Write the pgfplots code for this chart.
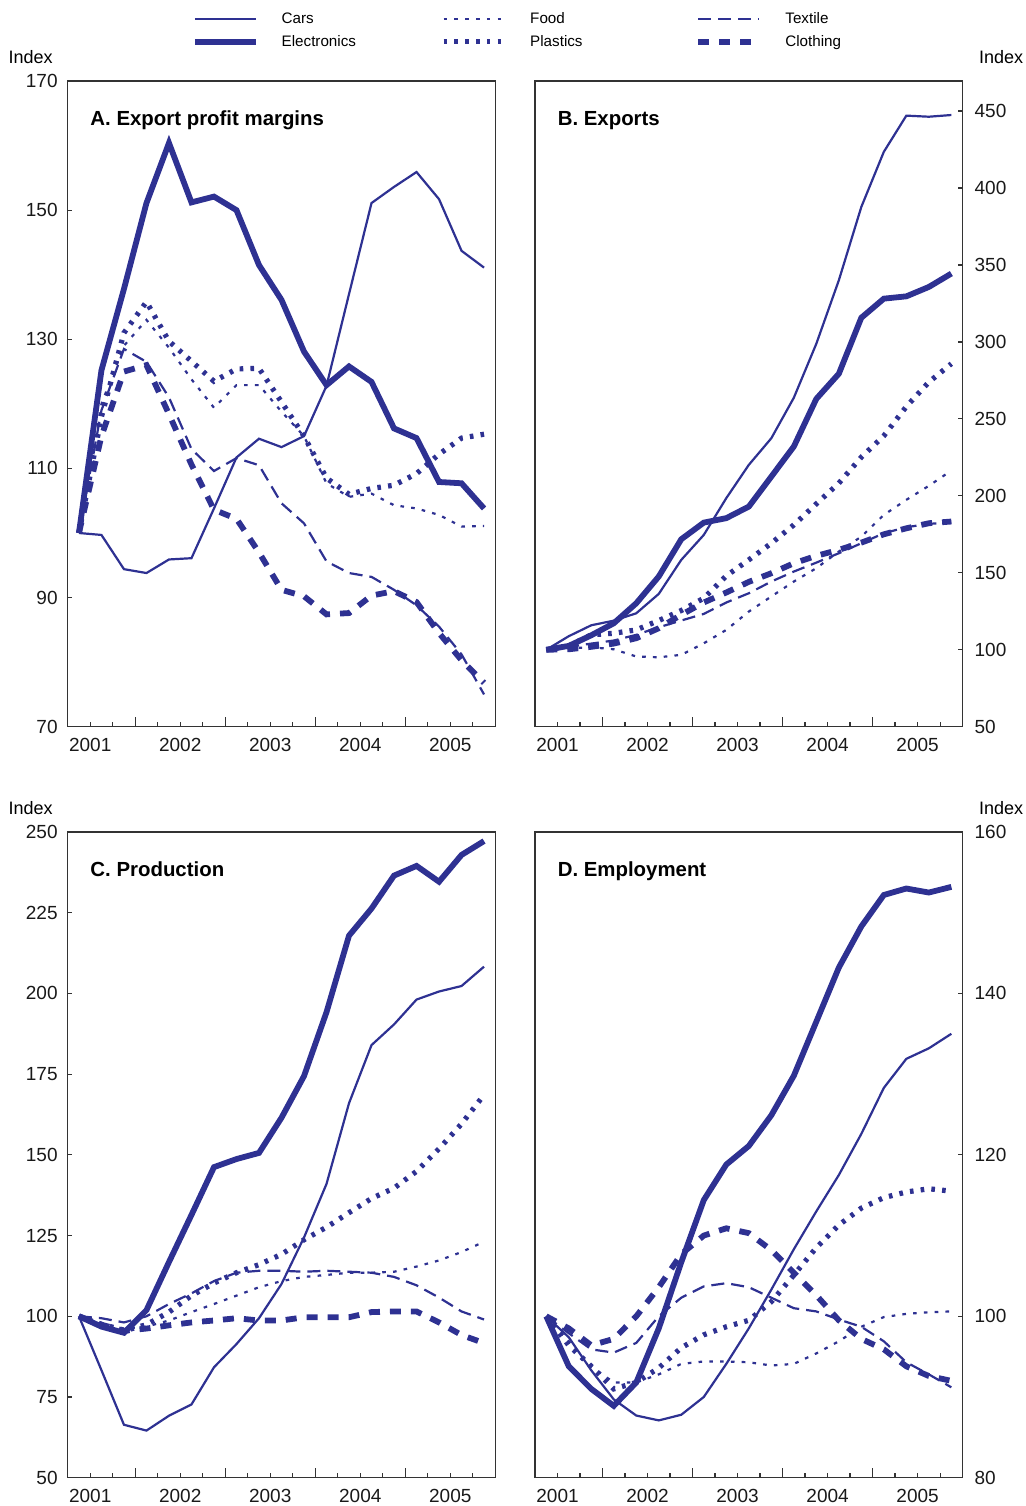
\documentclass[border=0pt]{standalone}
\usepackage{fontspec}
\setmainfont{Liberation Sans}
\usepackage{pgfplots}
\usepackage{pgfplotstable}
\pgfplotsset{compat=1.18}
\definecolor{lineblue}{HTML}{2E3192}

% quarters 2001Q2 .. 2005Q4 as 0..18
\pgfplotstableread{
q cars elec food plast text cloth
0 100 100 100 100 100 100
1 99.7 125.2 120 118 119 115
2 94.4 137.8 129 131 128.5 125
3 93.8 151.1 133 135.8 126.5 126
4 95.9 160.4 128.7 129.7 121 118.4
5 96.1 151.2 123.8 126.6 113 110.6
6 103.8 152.1 119.4 123.5 109.6 103.6
7 111.7 150.0 122.9 125.4 111.6 102.2
8 114.6 141.5 122.9 125.5 110.5 97
9 113.3 136.1 118.8 120.3 104.6 91.2
10 115.0 128.1 115 115 101.5 90.2
11 122.8 122.9 107.7 108.5 95.6 87.4
12 137 125.8 105.6 106 93.8 87.6
13 151.1 123.4 106.1 106.9 93.2 90.3
14 153.6 116.2 104.3 107.4 91.2 91
15 155.9 114.7 103.8 109.2 88.8 89.3
16 151.7 107.9 102.8 112.2 85.5 84.5
17 143.7 107.7 101 114.7 81.2 80.3
18 141.1 103.8 101.1 115.3 75 76.8
}\margins

\pgfplotstableread{
q cars elec food plast text cloth
0 100 100 100 100 100 100
1 108.8 102.5 101 102.5 101.9 100.3
2 115.9 109.4 101.6 109.7 104 101.9
3 118.9 117.2 100.3 110.7 106 104
4 123.7 130.2 95.6 112.9 109.7 107.5
5 136.3 147.6 95.1 119 114.6 114
6 158.4 171.8 96.7 125.5 119 122.7
7 174.6 182.6 104.2 133.5 123.3 130.7
8 198.5 185.5 112.9 148 130.7 137.2
9 220.1 193 124.8 158.4 136.7 144.1
10 237.4 212.5 134.6 169.2 144.3 149.7
11 263.7 232 144.3 181.1 150.8 156.2
12 298.8 263 153 194.8 156.6 161
13 340 279.3 163.8 208.2 162.7 164.9
14 387.7 315.7 173.5 225.1 169.2 169.6
15 423.5 328.1 187.6 239 175.7 175
16 447 329.6 197.4 258 179.6 178.9
17 446.3 335.7 206.5 273.9 181.8 182.2
18 447.4 344.4 216.4 285.8 182.6 183.3
}\exports

\pgfplotstableread{
q cars elec food plast text cloth
0 100 100 100 100 100 100
1 83.3 96.8 98 97.4 99.4 97.4
2 66.4 94.9 96.2 95.5 98.1 95.5
3 64.6 101.9 96.8 97.4 100 96.2
4 69.2 116.8 98.7 101.3 103.8 97.2
5 72.7 131.4 101.3 106.4 107.1 98.1
6 84.2 146.2 103.8 110.3 110.9 98.7
7 91.4 148.7 106.4 113.5 113.5 99.4
8 99.4 150.6 109 116 114.1 98.7
9 110 161.5 110.9 119.2 114.1 98.7
10 124.4 174.4 112.2 123.7 113.8 99.7
11 141 194.2 112.8 127.6 114.1 99.7
12 166 217.9 113.5 132.1 113.8 99.7
13 184 226.3 113.5 136.5 113.5 101.3
14 190.4 236.5 113.8 139.7 112.2 101.5
15 198.1 239.5 115.4 144.9 109.6 101.5
16 200.6 234.6 117.3 151.9 105.8 98.1
17 202.3 242.9 119.9 159.6 101.5 94.2
18 208.3 247.2 123.1 168.6 99 91.7
}\production

\pgfplotstableread{
q cars elec food plast text cloth
0 100 100 100 100 100 100
1 97.4 93.8 96.9 96.4 97.9 98.5
2 93.3 91 93.8 93.8 95.9 96.4
3 89.7 88.9 91.8 91 95.5 97.2
4 87.7 91.8 91.8 91.8 96.7 100
5 87.1 98.5 92.8 93.6 100 103.6
6 87.8 106.7 94.1 96.1 102.3 107.7
7 90 114.4 94.4 97.7 103.7 110
8 94.1 118.8 94.4 98.7 104.1 110.9
9 98.5 121.1 94.3 99.5 103.6 110.3
10 103.3 124.9 93.9 101.8 102.3 108.2
11 108.3 129.8 94.1 105.1 101 105.4
12 113 136.5 95.4 108.5 100.6 102.6
13 117.5 143.2 96.9 111.3 99.6 99.5
14 122.6 148.3 98.7 113.4 98.7 97.2
15 128.3 152.2 99.9 114.7 96.9 95.9
16 131.9 153 100.3 115.4 94.3 93.8
17 133.2 152.5 100.5 115.8 92.8 92.6
18 135 153.2 100.6 115.5 91.2 92
}\employment

\tikzset{
  ptitle/.style={anchor=base west, inner sep=0pt, xshift=11.2pt, yshift=-22pt, font=\bfseries\fontsize{10.2}{12}\selectfont},
  pindexl/.style={anchor=base east, inner sep=0pt, xshift=-7.3pt, yshift=8.7pt, font=\fontsize{9}{11}\selectfont},
  pindexr/.style={anchor=base west, inner sep=0pt, xshift=8pt, yshift=8.7pt, font=\fontsize{9}{11}\selectfont},
}

\pgfplotsset{
  s cars/.style={lineblue, line width=1.1pt},
  s elec/.style={lineblue, line width=2.9pt},
  s food/.style={lineblue, line width=1.1pt, dash pattern=on 1.8pt off 3.6pt},
  s plast/.style={lineblue, line width=2.6pt, dash pattern=on 1.8pt off 3.6pt},
  s text/.style={lineblue, line width=1.1pt, dash pattern=on 6.5pt off 3.5pt},
  s cloth/.style={lineblue, line width=2.9pt, dash pattern=on 5.5pt off 5pt},
  panel/.style={
    scale only axis, width=213.8pt, height=322.85pt,
    anchor=north west, clip mode=individual,
    xmin=-0.5, xmax=18.5,
    xtick={0.5,4.5,8.5,12.5,16.5},
    xticklabels={2001,2002,2003,2004,2005},
    minor xtick={1.5,3.5,5.5,7.5,9.5,11.5,13.5,15.5,17.5},
    extra x ticks={2.5,6.5,10.5,14.5},
    extra x tick labels={},
    extra x tick style={major tick length=5pt},
    xtick pos=bottom, tick align=inside,
    major tick length=2.2pt, minor tick length=2.2pt,
    axis line style={line width=0.7pt, black!80},
    tick style={line width=0.6pt, black!80},
    tick label style={font=\fontsize{9.5}{11}\selectfont, black!90},
    xticklabel style={yshift=-2pt},
    /pgf/number format/assume math mode=true,
  },
  left panel/.style={panel, ytick pos=left, yticklabel style={xshift=-1.5pt}},
  right panel/.style={panel, ytick pos=right, yticklabel pos=right, yticklabel style={xshift=2.5pt}},
}

\newcommand{\allseries}[1]{%
  \addplot[s cars] table[x=q, y=cars] {#1};
  \addplot[s food] table[x=q, y=food] {#1};
  \addplot[s text] table[x=q, y=text] {#1};
  \addplot[s elec] table[x=q, y=elec] {#1};
  \addplot[s plast] table[x=q, y=plast] {#1};
  \addplot[s cloth] table[x=q, y=cloth] {#1};
}

\begin{document}
\begin{tikzpicture}
\useasboundingbox (0,0) rectangle (513pt,-753pt);

\begin{axis}[left panel, at={(33.85pt,-40.5pt)},
  ymin=70, ymax=170, ytick={70,90,110,130,150,170},
  legend columns=3, legend cell align=left,
  legend image code/.code={\draw[#1] (0pt,0pt) -- (30.5pt,0pt);},
  legend style={at={(axis description cs:0.2895,1.1085)}, anchor=north west,
    draw=none, fill=none, inner sep=0pt, row sep=4pt,
    font=\fontsize{7.6}{9}\selectfont,
    nodes={inner sep=0pt, text height=6pt, text depth=1.5pt},
    /tikz/column 1/.style={column sep=11.5pt},
    /tikz/column 2/.style={column sep=42.5pt},
    /tikz/column 3/.style={column sep=11.5pt},
    /tikz/column 4/.style={column sep=56.5pt},
    /tikz/column 5/.style={column sep=11.5pt}}]
\allseries{\margins}
\legend{Cars,Food,Textile,Electronics,Plastics,Clothing}
\node[ptitle] at (rel axis cs:0,1) {A. Export profit margins};
\node[pindexl] at (rel axis cs:0,1) {Index};
\end{axis}

\begin{axis}[right panel, at={(267.5pt,-40.5pt)},
  ymin=50, ymax=469.5, ytick={50,100,...,450}]
\allseries{\exports}
\node[ptitle] at (rel axis cs:0,1) {B. Exports};
\node[pindexr] at (rel axis cs:1,1) {Index};
\end{axis}

\begin{axis}[left panel, at={(33.85pt,-416pt)},
  ymin=50, ymax=250, ytick={50,75,...,250}]
\allseries{\production}
\node[ptitle] at (rel axis cs:0,1) {C. Production};
\node[pindexl] at (rel axis cs:0,1) {Index};
\end{axis}

\begin{axis}[right panel, at={(267.5pt,-416pt)},
  ymin=80, ymax=160, ytick={80,100,...,160}]
\allseries{\employment}
\node[ptitle] at (rel axis cs:0,1) {D. Employment};
\node[pindexr] at (rel axis cs:1,1) {Index};
\end{axis}
\end{tikzpicture}
\end{document}
